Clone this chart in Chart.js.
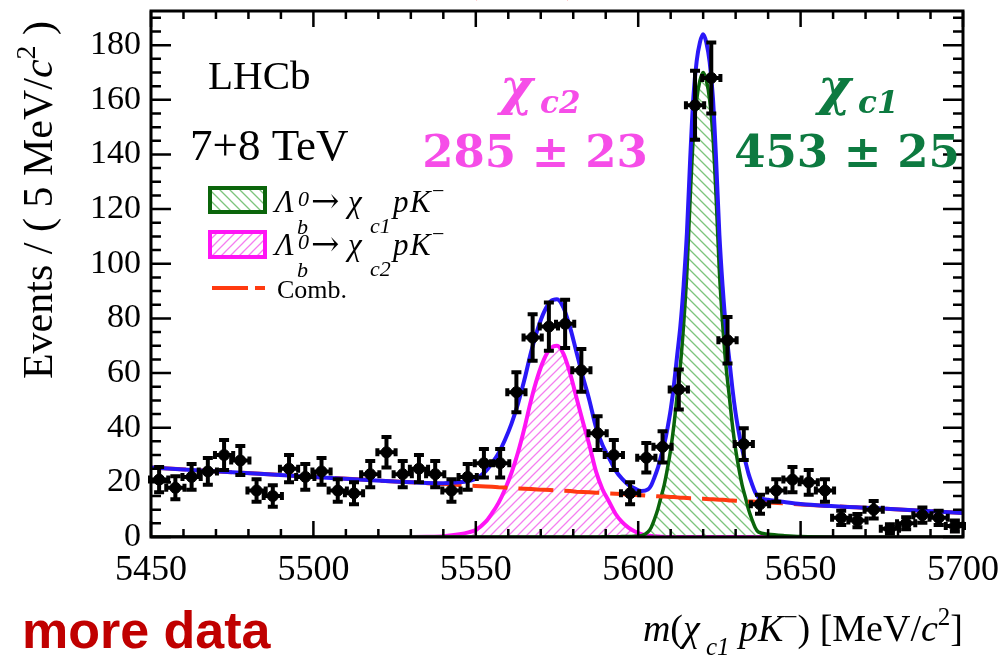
<!DOCTYPE html>
<html>
<head>
<meta charset="utf-8">
<script src="https://cdn.jsdelivr.net/npm/chart.js@4.4.1/dist/chart.umd.min.js"></script>
<style>
  html, body { margin: 0; padding: 0; background: #fff; }
  canvas { display: block; }
</style>
</head>
<body>
<canvas id="massFit" width="1008" height="658"></canvas>
<script>
// m(chi_c1 p K-) spectrum, 5 MeV bins
const binWidth = 5;
const binCentres = [
  5452.5, 5457.5, 5462.5, 5467.5, 5472.5, 5477.5, 5482.5, 5487.5, 5492.5, 5497.5,
  5502.5, 5507.5, 5512.5, 5517.5, 5522.5, 5527.5, 5532.5, 5537.5, 5542.5, 5547.5,
  5552.5, 5557.5, 5562.5, 5567.5, 5572.5, 5577.5, 5582.5, 5587.5, 5592.5, 5597.5,
  5602.5, 5607.5, 5612.5, 5617.5, 5622.5, 5627.5, 5632.5, 5637.5, 5642.5, 5647.5,
  5652.5, 5657.5, 5662.5, 5667.5, 5672.5, 5677.5, 5682.5, 5687.5, 5692.5, 5697.5
];
const events = [
  21, 18, 22, 24, 30, 28, 17, 15, 25, 22,
  24, 17, 16, 23, 31, 23, 25, 23, 17, 22,
  27, 27, 53, 73, 77, 78, 61, 38, 30, 16,
  29, 33, 54, 158, 168, 72, 34, 12, 17, 21,
  20, 17, 7, 6, 10, 3, 5, 8, 7, 4
];
const eventErrors = [
  4.6, 4.2, 4.7, 4.9, 5.5, 5.3, 4.1, 3.9, 5.0, 4.7,
  4.9, 4.1, 4.0, 4.8, 5.6, 4.8, 5.0, 4.8, 4.1, 4.7,
  5.2, 5.2, 7.3, 8.5, 8.8, 8.8, 7.8, 6.2, 5.5, 4.0,
  5.4, 5.7, 7.3, 12.6, 13.0, 8.5, 5.8, 3.5, 4.1, 4.6,
  4.5, 4.1, 2.6, 2.4, 3.2, 1.7, 2.2, 2.8, 2.6, 2.0
];

// fit components sampled along the mass axis
const curveMass = [
  5450, 5475, 5500, 5525, 5535, 5540, 5545, 5548, 5550, 5553,
  5555, 5557, 5559, 5561, 5563, 5565, 5567, 5569, 5571, 5573,
  5575, 5577, 5579, 5581, 5583, 5585, 5587, 5589, 5591, 5593,
  5595, 5597, 5599, 5601, 5603, 5604, 5605, 5606, 5607, 5608,
  5609, 5610, 5611, 5612, 5613, 5614, 5615, 5616, 5617, 5618,
  5619, 5620, 5621, 5622, 5623, 5624, 5625, 5626, 5627, 5628,
  5629, 5630, 5631, 5632, 5633, 5634, 5635, 5636, 5637, 5640,
  5645, 5650, 5675, 5700
];
const combBkg = [
  25.4, 23.7, 22.0, 20.3, 19.7, 19.4, 19.0, 18.8, 18.7, 18.5,
  18.4, 18.2, 18.1, 18.0, 17.8, 17.7, 17.6, 17.4, 17.3, 17.2,
  17.0, 16.9, 16.8, 16.6, 16.5, 16.4, 16.2, 16.1, 15.9, 15.8,
  15.7, 15.5, 15.4, 15.3, 15.1, 15.0, 15.0, 14.9, 14.8, 14.8,
  14.7, 14.6, 14.6, 14.5, 14.4, 14.4, 14.3, 14.2, 14.2, 14.1,
  14.0, 14.0, 13.9, 13.8, 13.8, 13.7, 13.6, 13.6, 13.5, 13.4,
  13.4, 13.3, 13.2, 13.2, 13.1, 13.0, 13.0, 12.9, 12.8, 12.6,
  12.3, 11.9, 10.4, 8.8
];
const sigChic1 = [
  0, 0, 0, 0, 0, 0, 0, 0, 0, 0,
  0, 0, 0, 0, 0, 0, 0, 0, 0, 0,
  0, 0, 0, 0, 0, 0, 0, 0.05, 0.1, 0.1,
  0.15, 0.2, 0.3, 0.5, 1.8, 3.5, 6.5, 10, 14.5, 19,
  25, 32, 41, 52, 63, 78, 97, 124, 147, 160,
  167, 170, 167, 160, 147, 124, 97, 78, 63, 52,
  41, 32, 25, 19, 14.5, 10, 6.5, 3.5, 1.8, 1.0,
  0.5, 0.2, 0, 0
];
const sigChic2 = [
  0, 0, 0, 0, 0.1, 0.3, 1.0, 1.8, 2.6, 5.5,
  8.7, 12.5, 17.5, 23.5, 31, 40, 50, 58.5, 65, 69,
  70, 67, 60, 51, 42, 33.5, 24, 17.5, 13, 8.5,
  5.5, 3.4, 2.0, 1.0, 0.5, 0.4, 0.3, 0.2, 0.1, 0.1,
  0, 0, 0, 0, 0, 0, 0, 0, 0, 0,
  0, 0, 0, 0, 0, 0, 0, 0, 0, 0,
  0, 0, 0, 0, 0, 0, 0, 0, 0, 0,
  0, 0, 0, 0
];

const xTicks = [5450, 5500, 5550, 5600, 5650, 5700];
const yTicks = [0, 20, 40, 60, 80, 100, 120, 140, 160, 180];

const SERIF = 'Liberation Serif';
const COL_C1 = '#0b650b';
const COL_C2 = '#ff14f5';
const COL_TOTAL = '#2a18f8';
const COL_COMB = '#ff3a10';

function hatch(color, size, rising) {
  const c = document.createElement('canvas');
  c.width = c.height = size;
  const g = c.getContext('2d');
  g.strokeStyle = color;
  g.lineWidth = 1.3;
  g.beginPath();
  const h = size / 2;
  if (rising) {
    g.moveTo(0, size); g.lineTo(size, 0);
    g.moveTo(-h, h); g.lineTo(h, -h);
    g.moveTo(h, size + h); g.lineTo(size + h, h);
  } else {
    g.moveTo(0, 0); g.lineTo(size, size);
    g.moveTo(-h, h); g.lineTo(h, size + h);
    g.moveTo(h, -h); g.lineTo(size + h, h);
  }
  g.stroke();
  return g.createPattern(c, 'repeat');
}

const hatchC1 = hatch('#7cc47c', 10, false);
const hatchC2 = hatch('#f57ff0', 9, true);

// text made of pieces: [text, font, dy]
function richWidth(ctx, parts) {
  let w = 0;
  for (const p of parts) {
    ctx.font = p[1];
    w += ctx.measureText(p[0]).width;
  }
  return w;
}
function drawRich(ctx, parts, x, y) {
  for (const p of parts) {
    ctx.font = p[1];
    ctx.fillText(p[0], x, y + (p[2] || 0));
    x += ctx.measureText(p[0]).width;
  }
}
// pieces placed at fixed offsets: [text, font, dx, dy]
function drawPlaced(ctx, parts, x, y) {
  for (const p of parts) {
    ctx.font = p[1];
    ctx.fillText(p[0], x + p[2], y + p[3]);
  }
}

const frame = {
  id: 'frame',
  afterDatasetsDraw(chart) {
    const { ctx, chartArea: a, scales: { x, y } } = chart;
    ctx.save();
    ctx.strokeStyle = '#000';
    ctx.lineWidth = 2.5;
    ctx.beginPath();
    for (let m = 5450; m <= 5700; m += 10) {
      const px = x.getPixelForValue(m);
      const len = m % 50 === 0 ? 16 : 8;
      ctx.moveTo(px, a.bottom); ctx.lineTo(px, a.bottom - len);
      ctx.moveTo(px, a.top); ctx.lineTo(px, a.top + len);
    }
    for (let v = 0; v <= 190; v += 5) {
      const py = y.getPixelForValue(v);
      const len = v % 20 === 0 ? 20 : 10;
      ctx.moveTo(a.left, py); ctx.lineTo(a.left + len, py);
      ctx.moveTo(a.right, py); ctx.lineTo(a.right - len, py);
    }
    ctx.stroke();
    ctx.lineWidth = 3;
    ctx.strokeRect(a.left, a.top, a.right - a.left, a.bottom - a.top);
    ctx.restore();
  }
};

const errorBars = {
  id: 'errorBars',
  afterDatasetsDraw(chart) {
    const { ctx, scales: { x, y } } = chart;
    ctx.save();
    ctx.strokeStyle = '#000';
    ctx.lineWidth = 4;
    ctx.beginPath();
    binCentres.forEach((m, i) => {
      const px = x.getPixelForValue(m);
      const py = y.getPixelForValue(events[i]);
      const lo = y.getPixelForValue(events[i] - eventErrors[i]);
      const hi = y.getPixelForValue(events[i] + eventErrors[i]);
      const xl = x.getPixelForValue(m - binWidth / 2) - 1;
      const xr = x.getPixelForValue(m + binWidth / 2) + 1;
      ctx.moveTo(px, lo); ctx.lineTo(px, hi);
      ctx.moveTo(px - 5, lo); ctx.lineTo(px + 5, lo);
      ctx.moveTo(px - 5, hi); ctx.lineTo(px + 5, hi);
      ctx.moveTo(xl, py); ctx.lineTo(xr, py);
      ctx.moveTo(xl, py - 4); ctx.lineTo(xl, py + 4);
      ctx.moveTo(xr, py - 4); ctx.lineTo(xr, py + 4);
    });
    ctx.stroke();
    ctx.restore();
  }
};

const labels = {
  id: 'labels',
  afterDraw(chart) {
    const ctx = chart.ctx;
    ctx.save();
    ctx.textBaseline = 'alphabetic';
    ctx.textAlign = 'left';
    ctx.fillStyle = '#000';

    ctx.font = '41px ' + SERIF;
    ctx.fillText('LHCb', 208, 89);
    ctx.font = '45px ' + SERIF;
    ctx.fillText('7+8 TeV', 190, 160);

    // yields
    const big = 'bold 45px DejaVu Serif';
    const chi = 'bold italic 50px DejaVu Serif', sub = 'bold italic 31px DejaVu Serif';
    ctx.fillStyle = '#f64de8';
    drawPlaced(ctx, [['\u03c7', chi, 0, 0], ['c2', sub, 40, 9]], 500, 104);
    ctx.textAlign = 'center';
    ctx.font = big;
    ctx.fillText('285 \u00b1 23', 535, 167);
    ctx.textAlign = 'left';
    ctx.fillStyle = '#0d7a40';
    drawPlaced(ctx, [['\u03c7', chi, 0, 0], ['c1', sub, 40, 9]], 818, 104);
    ctx.textAlign = 'center';
    ctx.font = big;
    ctx.fillText('453 \u00b1 25', 847, 167);
    ctx.textAlign = 'left';

    // legend
    ctx.lineWidth = 4;
    ctx.fillStyle = hatchC1;
    ctx.fillRect(210, 188, 55, 24);
    ctx.strokeStyle = COL_C1;
    ctx.strokeRect(210, 188, 55, 24);
    ctx.fillStyle = hatchC2;
    ctx.fillRect(210, 232, 55, 25);
    ctx.strokeStyle = COL_C2;
    ctx.strokeRect(210, 232, 55, 25);
    ctx.strokeStyle = COL_COMB;
    ctx.beginPath();
    ctx.moveTo(212, 288); ctx.lineTo(248, 288);
    ctx.moveTo(255, 288); ctx.lineTo(265, 288);
    ctx.stroke();

    ctx.fillStyle = '#000';
    const it = 'italic 31px ' + SERIF, sm = 'italic 22px ' + SERIF;
    const decay = c => [
      ['\u039b', it, 0, 0], ['0', sm, 23, -6], ['b', sm, 22, 22], ['\u2192', '34px DejaVu Serif', 36, 0],
      ['\u03c7', it, 73, 0], [c, sm, 95, 21], ['p', it, 118, 0], ['K', it, 135, 0], ['\u2212', '22px ' + SERIF, 157, -14]
    ];
    drawPlaced(ctx, decay('c1'), 275, 212);
    drawPlaced(ctx, decay('c2'), 275, 255);
    ctx.font = '26px ' + SERIF;
    ctx.fillText('Comb.', 277, 298);

    // x title
    const f = '38px ' + SERIF, fi = 'italic 38px ' + SERIF, fs = '25px ' + SERIF, fsi = 'italic 25px ' + SERIF;
    const xTitle = [
      ['m', fi, 0], ['(', f, 0], ['\u03c7', fi, 0], [' c1', fsi, 14], [' p', fi, 0], ['K', fi, 0],
      ['\u2212', fs, -16], [') [MeV/', f, 0], ['c', fi, 0], ['2', fs, -16], [']', f, 0]
    ];
    drawRich(ctx, xTitle, 963 - richWidth(ctx, xTitle), 641);

    // y title
    const yTitle = [
      ['Events / ( 5 MeV/', '42px ' + SERIF, 0], ['c', 'italic 42px ' + SERIF, 0],
      ['2', '28px ' + SERIF, -17], [' )', '42px ' + SERIF, 0]
    ];
    ctx.save();
    ctx.translate(52, 200);
    ctx.rotate(-Math.PI / 2);
    drawRich(ctx, yTitle, -richWidth(ctx, yTitle) / 2, 0);
    ctx.restore();

    ctx.fillStyle = '#c00000';
    ctx.font = 'bold 52px Liberation Sans';
    ctx.fillText('more data', 22, 648);

    ctx.fillStyle = '#ff0000';
    ctx.font = '40px ' + SERIF;
    ctx.fillText('(', 465, -8);
    ctx.fillText(')', 566, -8);
    ctx.restore();
  }
};

// keep the plot frame fixed: no extra room for edge tick labels
const noEdgePadding = s => {
  s.paddingTop = 0; s.paddingBottom = 0; s.paddingLeft = 0; s.paddingRight = 0;
};

const ctx = document.getElementById('massFit').getContext('2d');
const curve = (vals) => curveMass.map((m, i) => ({ x: m, y: vals[i] }));
const total = combBkg.map((b, i) => b + sigChic1[i] + sigChic2[i]);

new Chart(ctx, {
  type: 'scatter',
  data: {
    datasets: [
      {
        label: 'Data',
        data: binCentres.map((m, i) => ({ x: m, y: events[i] })),
        pointRadius: 5.5,
        pointBackgroundColor: '#000',
        pointBorderColor: '#000',
        order: 0
      },
      {
        type: 'line',
        label: 'Total',
        data: curve(total),
        borderColor: COL_TOTAL,
        borderWidth: 4,
        pointRadius: 0,
        cubicInterpolationMode: 'monotone',
        fill: false,
        order: 1
      },
      {
        type: 'line',
        label: 'Comb.',
        data: curve(combBkg),
        borderColor: COL_COMB,
        borderWidth: 4,
        borderDash: [35, 11],
        pointRadius: 0,
        fill: false,
        order: 2
      },
      {
        type: 'line',
        label: 'chi_c1',
        data: curve(sigChic1),
        borderColor: COL_C1,
        borderWidth: 3.5,
        backgroundColor: hatchC1,
        pointRadius: 0,
        cubicInterpolationMode: 'monotone',
        fill: 'origin',
        order: 3
      },
      {
        type: 'line',
        label: 'chi_c2',
        data: curve(sigChic2),
        borderColor: COL_C2,
        borderWidth: 4,
        backgroundColor: hatchC2,
        pointRadius: 0,
        cubicInterpolationMode: 'monotone',
        fill: 'origin',
        order: 4
      }
    ]
  },
  options: {
    responsive: false,
    animation: false,
    devicePixelRatio: 1,
    layout: { padding: { top: 11, right: 45, left: 0, bottom: 0 } },
    plugins: { legend: { display: false }, tooltip: { enabled: false } },
    scales: {
      x: {
        type: 'linear',
        min: 5450,
        max: 5700,
        afterBuildTicks: s => { s.ticks = xTicks.map(v => ({ value: v })); },
        afterFit: s => { s.height = 121; noEdgePadding(s); },
        grid: { display: false, drawTicks: false },
        border: { display: false },
        ticks: {
          color: '#000',
          font: { family: SERIF, size: 36 },
          padding: 12,
          maxRotation: 0,
          autoSkip: false,
          callback: v => String(v)
        }
      },
      y: {
        type: 'linear',
        min: 0,
        max: 192.5,
        afterBuildTicks: s => { s.ticks = yTicks.map(v => ({ value: v })); },
        afterFit: s => { s.width = 151; noEdgePadding(s); },
        grid: { display: false, drawTicks: false },
        border: { display: false },
        ticks: {
          color: '#000',
          font: { family: SERIF, size: 34 },
          padding: 10,
          autoSkip: false,
          callback: v => String(v)
        }
      }
    }
  },
  plugins: [frame, errorBars, labels]
});
</script>
</body>
</html>
